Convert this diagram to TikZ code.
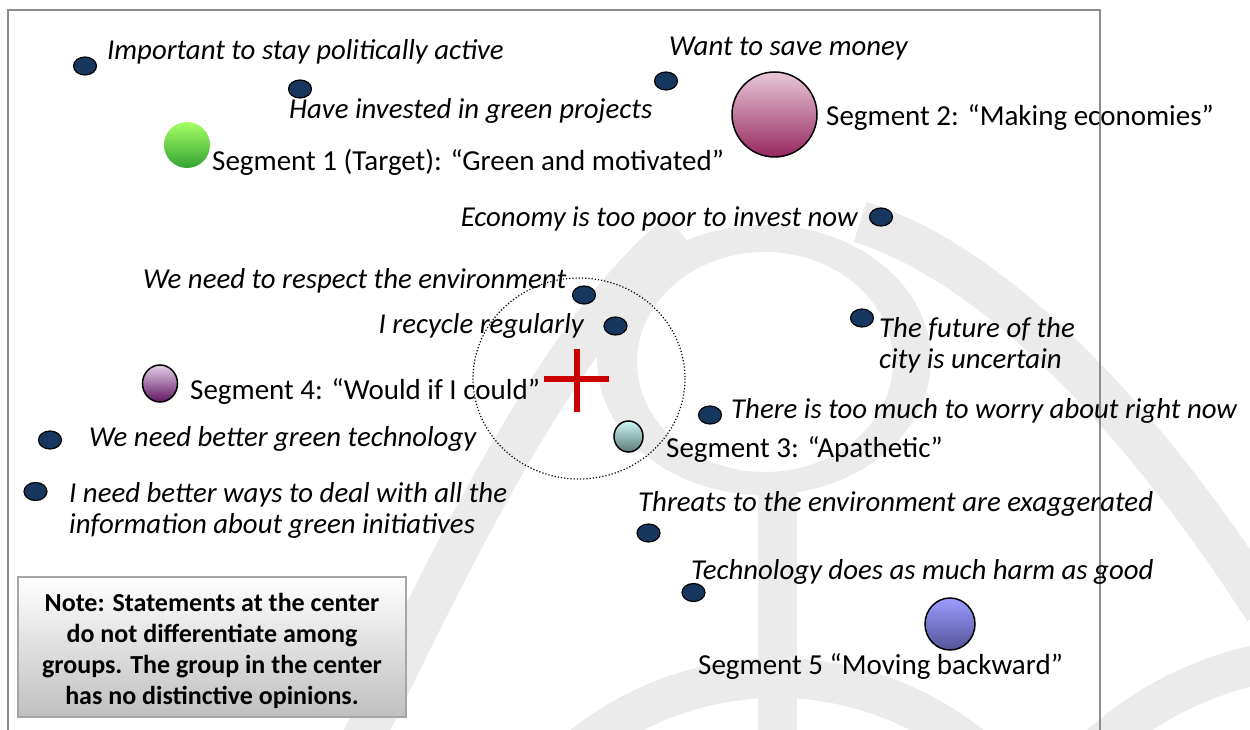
\documentclass[tikz,border=0pt]{standalone}
\usepackage{fontspec}
\setmainfont{Carlito}
\usetikzlibrary{shapes.geometric}

\definecolor{navy}{HTML}{17375E}
\definecolor{markgray}{HTML}{EBEBEB}
\definecolor{framegray}{HTML}{8C8C8C}
\definecolor{crossred}{HTML}{CC0000}

\tikzset{
  statement/.style={font=\itshape\fontsize{28.8}{31}\selectfont, inner sep=0pt, align=left},
  seglabel/.style={font=\fontsize{29}{31}\selectfont, inner sep=0pt},
  dot/.style={ellipse, draw=black, line width=1.2pt, fill=navy, minimum width=23pt, minimum height=18pt, inner sep=0pt},
  sphere/.style={ellipse, draw=black, line width=1.5pt, inner sep=0pt},
  band/.style={draw=markgray, line width=42pt},
}

\begin{document}
\begin{tikzpicture}[x=1pt, y=-1pt]
    \useasboundingbox (0,0) rectangle (1250,730);

    % Light background mark
    \begin{scope}
      \clip (0,0) rectangle (1250,730);
      \fill[markgray, even odd rule] (764,360) ellipse [x radius=167, y radius=135]
                                     (765,362) ellipse [x radius=128, y radius=110];
      \fill[markgray] (758,480) rectangle (797,740);
      \draw[band] (360,745) .. controls (450,560) and (560,330) .. (680,232);
      \draw[band] (860,222) .. controls (1000,265) and (1150,430) .. (1265,610);
      \draw[draw=markgray, line width=40pt] (777,990) circle [radius=312];
      \draw[draw=markgray, line width=40pt] (1330,1000) circle [radius=343];
    \end{scope}

    % Frame
    \draw[framegray, line width=2pt] (8,735) -- (8,10) -- (1100,10) -- (1100,735);

    % Centre zone
    \draw[black, dotted, line width=1.2pt] (579,378.5) ellipse [x radius=106, y radius=100.5];
    \draw[crossred, line width=6.5pt] (544,379) -- (609,379);
    \draw[crossred, line width=6.5pt] (577,349) -- (577,412);

    % Statements
    \node[dot] (dActive)  at (85,66) {};
    \node[dot] (dInvest)  at (300,89) {};
    \node[dot] (dMoney)   at (666,81) {};
    \node[dot] (dEconomy) at (881,217) {};
    \node[dot] (dRespect) at (584,295) {};
    \node[dot] (dRecycle) at (615.5,326) {};
    \node[dot] (dFuture)  at (862,318) {};
    \node[dot] (dWorry)   at (710,415) {};
    \node[dot] (dTech)    at (50,440) {};
    \node[dot] (dWays)    at (35.5,491.5) {};
    \node[dot] (dThreats) at (648.5,533) {};
    \node[dot] (dHarm)    at (693.5,592.5) {};

    \node[statement, anchor=base west] (tActive)  at (107,60)  {Important to stay politically active};
    \node[statement, anchor=base west] (tInvest)  at (289,119) {Have invested in green projects};
    \node[statement, anchor=base west] (tMoney)   at (669,56)  {Want to save money};
    \node[statement, anchor=base east] (tEconomy) at (858,226) {Economy is too poor to invest now};
    \node[statement, anchor=base west] (tRespect) at (143,288) {We need to respect the environment};
    \node[statement, anchor=base east] (tRecycle) at (584,333) {I recycle regularly};
    \node[statement, anchor=base west] (tFuture)  at (879,368) {The future of the\\city is uncertain};
    \node[statement, anchor=base west] (tWorry)   at (731,418) {There is too much to worry about right now};
    \node[statement, anchor=base west] (tTech)    at (89,446)  {We need better green technology};
    \node[statement, anchor=base west] (tWays)    at (69,533)  {I need better ways to deal with all the\\information about green initiatives};
    \node[statement, anchor=base west] (tThreats) at (638,511) {Threats to the environment are exaggerated};
    \node[statement, anchor=base west] (tHarm)    at (691,579) {Technology does as much harm as good};

    % Segments
    \node[ellipse, inner sep=0pt, minimum width=46pt, minimum height=46pt,
          top color=green!45!lime!60!white, bottom color=green!55!black!80] (seg1) at (187,145) {};
    \node[sphere, minimum width=85pt, minimum height=85pt,
          top color={rgb,255:red,232;green,200;blue,216}, bottom color={rgb,255:red,150;green,40;blue,94}] (seg2) at (774.5,114.5) {};
    \node[sphere, minimum width=29pt, minimum height=31pt,
          top color={rgb,255:red,205;green,248;blue,245}, bottom color={rgb,255:red,91;green,122;blue,120}] (seg3) at (628.5,436.5) {};
    \node[sphere, minimum width=35pt, minimum height=37pt,
          top color={rgb,255:red,228;green,208;blue,230}, bottom color={rgb,255:red,94;green,20;blue,96}] (seg4) at (160,383.5) {};
    \node[sphere, minimum width=50pt, minimum height=52pt,
          top color={rgb,255:red,156;green,156;blue,255}, bottom color={rgb,255:red,84;green,84;blue,154}] (seg5) at (950,624) {};

    \node[seglabel, anchor=base west] (lSeg1) at (212,171) {Segment 1 (Target): “Green and motivated”};
    \node[seglabel, anchor=base west] (lSeg2) at (826,126) {Segment 2: “Making economies”};
    \node[seglabel, anchor=base west] (lSeg3) at (666,457) {Segment 3: “Apathetic”};
    \node[seglabel, anchor=base west] (lSeg4) at (190,399) {Segment 4: “Would if I could”};
    \node[seglabel, anchor=base west] (lSeg5) at (698,674) {Segment 5 “Moving backward”};

    % Note
    \node[draw=black!35, line width=1.5pt, top color=white, bottom color=black!25,
          minimum width=388pt, minimum height=140pt, inner sep=0pt] (noteBox) at (212,647) {};
    \node[font=\bfseries\fontsize{26}{31}\selectfont, align=center, inner sep=0pt] (note) at (212,651)
      {Note: Statements at the center\\do not differentiate among\\groups. The group in the center\\has no distinctive opinions.};
\end{tikzpicture}
\end{document}
